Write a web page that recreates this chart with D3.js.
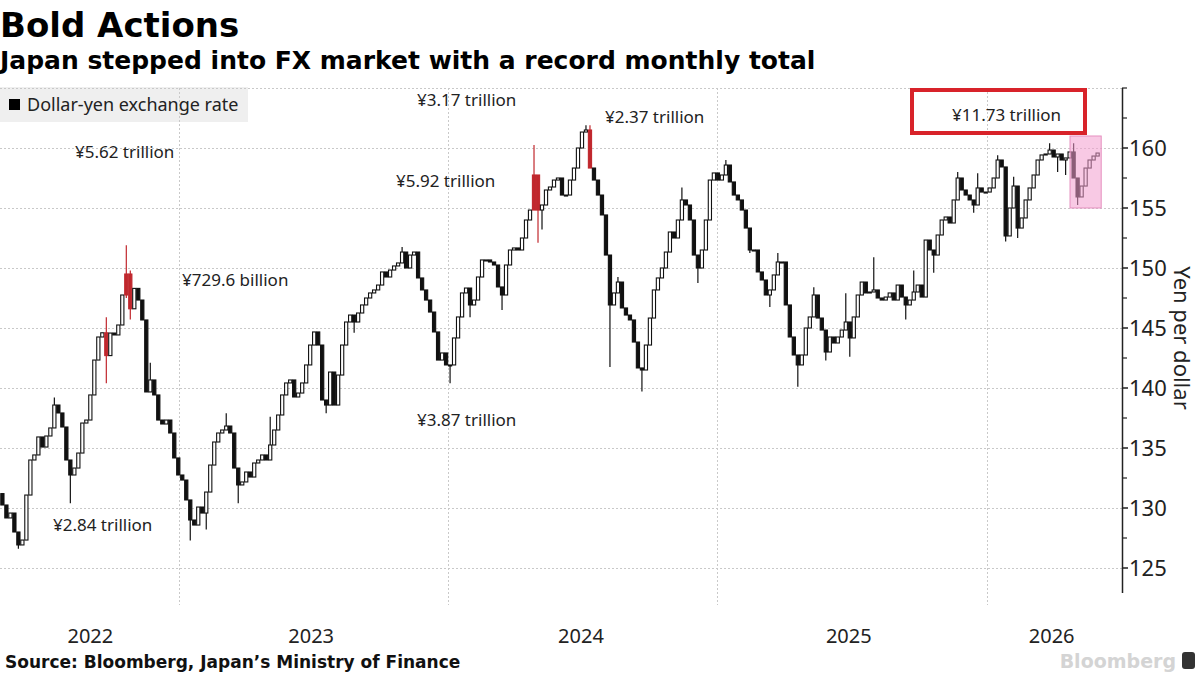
<!DOCTYPE html>
<html>
<head>
<meta charset="utf-8">
<script src="https://cdn.jsdelivr.net/npm/d3@7"></script>
<style>
  body { margin: 0; background: #fff; }
  svg { display: block; }
</style>
</head>
<body>
<svg id="chart" width="1200" height="675"></svg>
<script>
// ---- data ----
const firstOpen = 131.2;
const close = [
  130.25, 129.17, 129.58, 128.0, 126.92, 127.33, 131.08, 134.0, 134.42, 135.92,
  135.08, 136.0, 136.67, 138.58, 137.92, 136.75, 134.0, 132.75, 133.33, 134.58,
  137.08, 137.33, 139.42, 142.33, 144.25, 144.6, 142.7, 144.58, 144.42, 145.25,
  147.75, 149.5, 146.6, 148.3, 147.33, 145.67, 139.67, 140.67, 139.42, 137.33,
  137.0, 137.33, 136.25, 134.17, 132.75, 132.33, 130.67, 129.0, 128.58, 130.08,
  129.58, 131.33, 133.58, 135.5, 136.25, 136.5, 136.83, 136.25, 133.33, 131.92,
  132.17, 133.0, 132.58, 133.75, 134.0, 134.42, 134.0, 135.25, 136.5, 137.75,
  139.42, 140.42, 140.67, 139.25, 139.58, 140.42, 141.92, 143.58, 144.67, 143.58,
  139.0, 138.58, 141.33, 138.58, 141.08, 143.58, 145.5, 146.08, 145.5, 146.25,
  146.92, 147.5, 147.92, 148.17, 148.58, 149.67, 149.25, 149.83, 150.17, 150.42,
  151.33, 150.0, 151.08, 151.33, 149.17, 148.17, 147.33, 146.33, 144.67, 142.33,
  142.92, 141.92, 141.92, 144.17, 145.92, 147.92, 148.33, 146.92, 147.33, 149.25,
  150.67, 150.67, 150.5, 150.25, 148.42, 147.75, 150.25, 151.5, 151.67, 151.5,
  152.5, 154.0, 154.83, 157.75, 154.83, 155.25, 156.5,
  156.75, 157.33, 157.5, 156.08, 156.08, 157.33, 158.33, 160.0, 161.33, 161.5,
  158.33, 157.33, 156.08, 154.42, 151.08, 146.92, 147.92, 148.83, 146.67, 146.08,
  145.67, 143.83, 141.67, 141.5, 143.58, 145.83, 148.17, 149.17, 150.0, 151.33,
  153.0, 152.5, 154.0, 155.67, 155.25, 154.0, 151.08, 150.0, 151.5, 154.0,
  157.33, 157.92, 157.33, 157.75, 158.58, 157.17, 156.08, 155.67, 154.83, 153.33,
  151.5, 151.5, 149.67, 149.0, 147.75, 148.17, 149.42, 150.5, 150.5, 146.92,
  144.25, 142.75, 141.92, 142.75, 145.0, 145.92, 147.75, 145.83,
  144.83, 143.0, 144.25, 143.75, 144.25, 144.83, 145.5, 144.17, 145.92, 147.75,
  148.83, 147.92, 148.0, 148.17, 147.5, 147.33, 147.58, 147.92, 147.33, 148.58,
  147.58, 146.92, 147.33, 148.0, 148.58, 147.58, 152.33, 151.5, 151.08, 152.75,
  154.0, 154.25, 153.75, 155.67, 157.5, 156.5, 156.08, 155.67, 155.25, 156.67,
  156.33, 156.33, 156.67, 157.5, 159.0, 158.42, 152.67, 155.0, 156.83, 153.33,
  154.17, 155.67, 156.67, 157.75, 159.0, 159.42, 159.5, 159.83, 159.25, 159.5,
  159.0, 159.17, 159.67, 157.5, 155.92, 156.83, 158.33, 159.0, 159.33, 159.58
];
// intervention days (drawn red)
const redIdx = [26, 31, 32, 133, 134, 147];
// wicks that stick out of the body: [candle, high, low]
const spikes = [
  [4, null, 126.6], [13, 139.2, null], [17, null, 130.4], [26, 145.9, 140.4], [31, 151.9, 147.5],
  [32, 149.8, 145.7], [37, 142.1, null], [47, null, 127.3], [51, null, 128.2], [56, 137.9, null],
  [59, null, 130.4], [67, 137.6, null], [81, null, 137.9], [88, null, 144.6], [100, 151.75, null],
  [112, null, 140.4], [117, null, 145.9], [125, null, 146.5], [133, 160.25, null], [134, null, 152.1],
  [135, null, 153.2], [146, 161.9, null], [147, 161.9, null], [152, null, 141.75], [154, 149.25, null],
  [160, null, 139.7], [170, 156.7, null], [174, null, 148.75], [181, 159.0, null], [187, null, 151.25],
  [192, null, 146.75], [194, 151.25, null], [199, null, 140.1], [203, 148.4, null], [206, null, 142.3],
  [211, 147.9, null], [212, null, 142.6], [218, 150.9, null], [226, null, 145.7], [228, 149.8, null],
  [233, null, 149.6], [239, 158.0, null], [243, null, 154.6], [244, 157.9, null], [249, 159.4, null],
  [251, null, 152.2], [253, 157.6, null], [254, null, 152.5], [262, 160.4, null], [264, null, 158.0],
  [266, null, 157.75], [268, 160.4, null], [269, null, 155.25]
];
const majorTicks = [125, 130, 135, 140, 145, 150, 155, 160];
const minorTicks = [127.5, 132.5, 137.5, 142.5, 147.5, 152.5, 157.5, 162.5, 165];
const years = ["2022", "2023", "2024", "2025", "2026"];
const yearAt = [22, 77.25, 144.75, 211.75, 262.5];   // candle position of each year label
const gridAt = [44.25, 111.5, 178.75, 246.25];       // candle position of vertical gridlines
const amounts = ["¥2.84 trillion", "¥5.62 trillion", "¥729.6 billion", "¥5.92 trillion",
                 "¥3.87 trillion", "¥3.17 trillion", "¥2.37 trillion", "¥11.73 trillion"];
const lastMonth = [268, 274]; // candles inside the pink box

// ---- chart ----
const svg = d3.select("#chart");
const axisX = 1122;
const sans = "'Noto Sans', 'Open Sans', sans-serif";
const heavy = "'DejaVu Sans', sans-serif";

const x = d3.scaleBand().domain(d3.range(close.length)).range([0, 1100]).padding(0.2);
const bw = x.bandwidth();
const xc = d3.scaleLinear().domain([0, close.length - 1]).range([x(0) + bw / 2, x(close.length - 1) + bw / 2]);
const y = d3.scaleLinear().domain([125, 160]).range([568, 148]);

const spikeMap = new Map(spikes.map(s => [s[0], s]));
const candles = close.map((c, i) => {
  const o = i ? close[i - 1] : firstOpen;
  const s = spikeMap.get(i);
  return {
    i, o, c,
    h: s && s[1] != null ? s[1] : Math.max(o, c),
    l: s && s[2] != null ? s[2] : Math.min(o, c),
    red: redIdx.includes(i)
  };
});

svg.append("rect").attr("width", 1200).attr("height", 675).attr("fill", "#fff");

// legend background (sits under gridlines)
svg.append("rect").attr("x", 0).attr("y", 87).attr("width", 248).attr("height", 35).attr("fill", "#efefef");

// gridlines
const grid = svg.append("g").attr("stroke", "#c9c9c9").attr("stroke-width", 1).attr("stroke-dasharray", "2,2");
grid.selectAll("line.h").data(majorTicks.concat([165])).join("line")
  .attr("x1", 0).attr("x2", axisX)
  .attr("y1", d => Math.round(y(d)) + 0.5).attr("y2", d => Math.round(y(d)) + 0.5);
grid.selectAll("line.v").data(gridAt).join("line")
  .attr("x1", d => Math.round(xc(d)) + 0.5).attr("x2", d => Math.round(xc(d)) + 0.5)
  .attr("y1", y(165)).attr("y2", 605);

// legend
svg.append("rect").attr("x", 9).attr("y", 99).attr("width", 11).attr("height", 11).attr("fill", "#000");
svg.append("text").attr("x", 27).attr("y", 111).attr("font-family", sans).attr("font-size", 18)
  .attr("fill", "#222").text("Dollar-yen exchange rate");

// titles
svg.append("text").attr("x", 0).attr("y", 37).attr("font-family", heavy).attr("font-weight", "bold")
  .attr("font-size", 34).attr("fill", "#000").text("Bold Actions");
svg.append("text").attr("x", 0).attr("y", 69).attr("font-family", heavy).attr("font-weight", "bold")
  .attr("font-size", 25).attr("fill", "#000").text("Japan stepped into FX market with a record monthly total");

// candles
const cg = svg.append("g");
const g = cg.selectAll("g").data(candles).join("g");
g.append("line")
  .attr("x1", d => x(d.i) + bw / 2).attr("x2", d => x(d.i) + bw / 2)
  .attr("y1", d => y(d.h)).attr("y2", d => y(d.l))
  .attr("stroke", d => d.red ? "#c0272d" : "#111").attr("stroke-width", 1.2);
g.append("rect")
  .attr("x", d => x(d.i)).attr("width", bw)
  .attr("y", d => y(Math.max(d.o, d.c)))
  .attr("height", d => Math.max(1, Math.abs(y(d.o) - y(d.c))))
  .attr("fill", d => d.red ? "#c0272d" : (d.c >= d.o ? "#fff" : "#111"))
  .attr("stroke", d => d.red ? "#c0272d" : "#111").attr("stroke-width", 1.1);

// pink box over the latest month
svg.append("rect")
  .attr("x", x(lastMonth[0]) - 2).attr("y", y(161))
  .attr("width", x(lastMonth[1]) + bw + 2 - (x(lastMonth[0]) - 2))
  .attr("height", y(155) - y(161))
  .attr("fill", "#f29ccd").attr("fill-opacity", 0.55)
  .attr("stroke", "#e58fbf").attr("stroke-width", 1);

// amount labels
const amountPos = [[53, 531], [75, 158], [182, 286], [396, 187], [417, 426], [417, 106], [605, 123], [952, 121]];
svg.append("g").selectAll("text").data(amounts).join("text")
  .attr("x", (d, i) => amountPos[i][0]).attr("y", (d, i) => amountPos[i][1])
  .attr("font-family", sans).attr("font-size", 17).attr("fill", "#222").text(d => d);

// red callout box
svg.append("rect").attr("x", 912).attr("y", 90).attr("width", 173).attr("height", 43)
  .attr("fill", "none").attr("stroke", "#d8232a").attr("stroke-width", 4);

// right axis
const ax = svg.append("g");
ax.append("line").attr("x1", axisX + 0.5).attr("x2", axisX + 0.5).attr("y1", y(165)).attr("y2", 593)
  .attr("stroke", "#222").attr("stroke-width", 1.5);
ax.selectAll("line.maj").data(majorTicks).join("line")
  .attr("x1", axisX).attr("x2", axisX + 6)
  .attr("y1", d => y(d)).attr("y2", d => y(d)).attr("stroke", "#222").attr("stroke-width", 1.5);
ax.selectAll("line.min").data(minorTicks).join("line")
  .attr("x1", axisX).attr("x2", axisX + 5)
  .attr("y1", d => y(d)).attr("y2", d => y(d)).attr("stroke", "#222").attr("stroke-width", 1.2);
ax.selectAll("text").data(majorTicks).join("text")
  .attr("x", axisX + 7).attr("y", d => y(d)).attr("dy", "0.35em")
  .attr("font-family", sans).attr("font-size", 22).attr("fill", "#222").text(d => d);
svg.append("text").attr("transform", "translate(1174,338) rotate(90)")
  .attr("text-anchor", "middle").attr("font-family", sans).attr("font-size", 22)
  .attr("fill", "#222").text("Yen per dollar");

// year labels
svg.append("g").selectAll("text").data(years).join("text")
  .attr("x", (d, i) => xc(yearAt[i])).attr("y", 643).attr("text-anchor", "middle")
  .attr("font-family", sans).attr("font-size", 20).attr("fill", "#222").text(d => d);

// source + watermark
svg.append("text").attr("x", 5).attr("y", 668).attr("font-family", heavy).attr("font-weight", "bold")
  .attr("font-size", 17).attr("fill", "#111").text("Source: Bloomberg, Japan’s Ministry of Finance");
svg.append("text").attr("x", 1176).attr("y", 668).attr("text-anchor", "end").attr("font-family", heavy)
  .attr("font-weight", "bold").attr("font-size", 19).attr("fill", "#d4d4d4").text("Bloomberg");
svg.append("rect").attr("x", 1182).attr("y", 652).attr("width", 13).attr("height", 17).attr("rx", 3).attr("fill", "#333");
</script>
</body>
</html>
